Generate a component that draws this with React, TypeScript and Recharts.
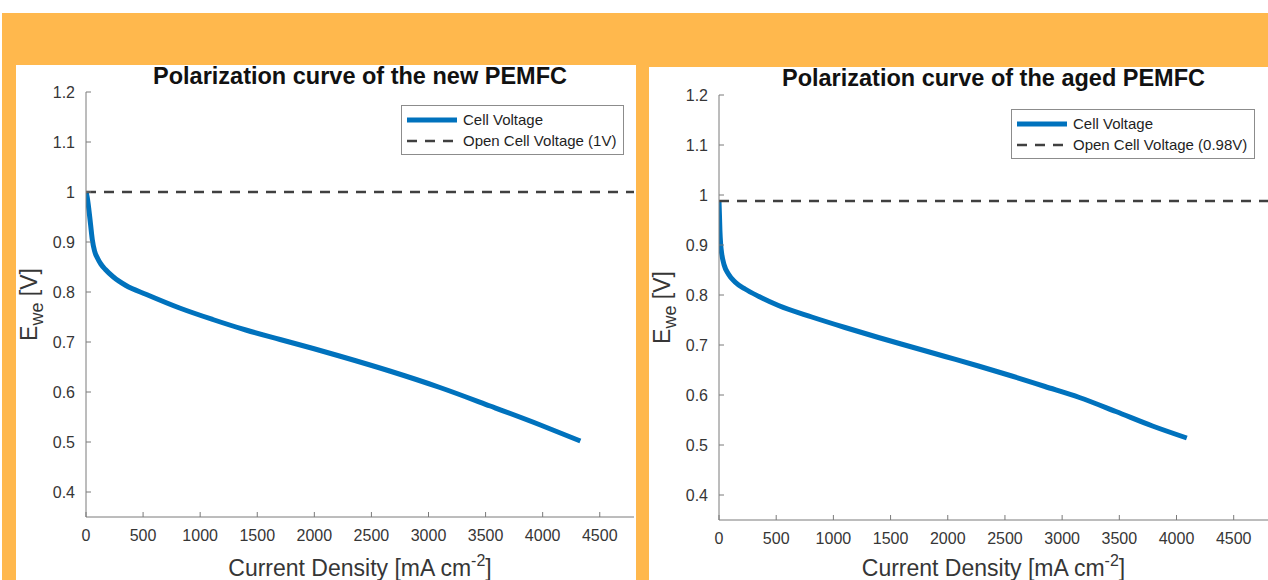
import { Legend, Line, LineChart, XAxis, YAxis } from "recharts";

// values
const newCurrent = [0, 10, 25, 40, 55, 75, 100, 130, 170, 240, 350, 530, 820, 1110, 1400, 1700, 1990, 2220, 2660, 3100, 3540, 3980, 4330];
const newVoltage = [1.0, 0.99, 0.965, 0.935, 0.905, 0.882, 0.868, 0.856, 0.845, 0.83, 0.813, 0.795, 0.768, 0.745, 0.724, 0.705, 0.687, 0.672, 0.642, 0.609, 0.572, 0.534, 0.502];

const agedCurrent = [0, 4, 8, 15, 24, 45, 82, 140, 228, 350, 520, 811, 1102, 1394, 1685, 1977, 2268, 2560, 2850, 3151, 3470, 3790, 4090];
const agedVoltage = [0.988, 0.96, 0.929, 0.9, 0.882, 0.86, 0.842, 0.826, 0.812, 0.797, 0.779, 0.756, 0.735, 0.715, 0.696, 0.677, 0.658, 0.638, 0.617, 0.595, 0.567, 0.538, 0.514];

const ocvNew = 1.0;
const ocvAged = 0.988;

const xTicks = [0, 500, 1000, 1500, 2000, 2500, 3000, 3500, 4000, 4500];
const yTicks = [0.4, 0.5, 0.6, 0.7, 0.8, 0.9, 1, 1.1, 1.2];
const xDomain: [number, number] = [0, 4800];
const yDomain: [number, number] = [0.35, 1.2];

const FONT = '"Liberation Sans", Arial, Helvetica, sans-serif';
const AXIS = "#7a7a7a";
const TXT = "#363636";
const BLUE = "#0072BD";
const DASH = "#404040";

const toRows = (xs: number[], ys: number[]) =>
  xs.map((x, i) => ({ current: x, voltage: ys[i] }));

const fmtY = (v: number) => String(Number(v.toFixed(1)));

const LeftTick = (props: any) => {
  const { x, y, payload } = props;
  return (
    <g>
      <line x1={x + 11} x2={x + 16} y1={y} y2={y} stroke={AXIS} />
      <text x={x} y={y} dy="0.355em" textAnchor="end" fontSize={16} fill={TXT} fontFamily={FONT}>
        {fmtY(payload.value)}
      </text>
    </g>
  );
};

const BottomTick = (props: any) => {
  const { x, y, payload } = props;
  return (
    <g>
      <line x1={x} x2={x} y1={y - 13} y2={y - 18} stroke={AXIS} />
      <text x={x} y={y} dy="0.71em" textAnchor="middle" fontSize={16} fill={TXT} fontFamily={FONT}>
        {payload.value}
      </text>
    </g>
  );
};

const TopTick = (props: any) => {
  const { x, y } = props;
  return <line x1={x} x2={x} y1={y} y2={y + 5} stroke={AXIS} />;
};

const RightTick = (props: any) => {
  const { x, y } = props;
  return <line x1={x} x2={x - 5} y1={y} y2={y} stroke={AXIS} />;
};

const XLabel = (props: any) => {
  const { viewBox, base } = props;
  return (
    <text x={viewBox.x + viewBox.width / 2} y={viewBox.y + base} textAnchor="middle" fontSize={23} fill={TXT} fontFamily={FONT}>
      Current Density [mA cm
      <tspan dy={-10} fontSize={16}>-2</tspan>
      <tspan dy={10}>]</tspan>
    </text>
  );
};

const YLabel = (props: any) => {
  const { viewBox } = props;
  const cx = viewBox.x + 21;
  const cy = viewBox.y + viewBox.height / 2;
  return (
    <text transform={`translate(${cx},${cy}) rotate(-90)`} textAnchor="middle" fontSize={23} fill={TXT} fontFamily={FONT}>
      E<tspan dy={6} fontSize={18}>we</tspan>
      <tspan dy={-6}> [V]</tspan>
    </text>
  );
};

const LegendBox = (props: any) => {
  const items = props.payload || [];
  return (
    <div
      style={{
        border: "1px solid #8c8c8c",
        background: "#fff",
        padding: "3px 7px 3px 4px",
        fontFamily: FONT,
        fontSize: 15,
        color: "#1f1f1f",
      }}
    >
      {items.map((e: any) => {
        const dashed = !!(e.payload && e.payload.strokeDasharray);
        return (
          <div key={e.value} style={{ display: "flex", alignItems: "center", height: 21, whiteSpace: "nowrap" }}>
            <svg width={52} height={8} style={{ marginRight: 5 }}>
              <line
                x1={1}
                x2={51}
                y1={4}
                y2={4}
                stroke={e.color}
                strokeWidth={dashed ? 2.5 : 5}
                strokeDasharray={dashed ? "10 8" : undefined}
              />
            </svg>
            <span>{e.value}</span>
          </div>
        );
      })}
    </div>
  );
};

type PanelProps = {
  left: number;
  top: number;
  width: number;
  height: number;
  marginTop: number;
  marginRight: number;
  xAxisHeight: number;
  labelBase: number;
  title: string;
  rows: { current: number; voltage: number }[];
  ocv: number;
  ocvName: string;
  legendPos: { left: number; top: number };
};

const Panel = (p: PanelProps) => {
  const ocvRows = xDomain.map((x) => ({ current: x, ocv: p.ocv }));
  const plotW = p.width - 70 - p.marginRight;
  return (
    <div style={{ position: "absolute", left: p.left, top: p.top, width: p.width, height: p.height, background: "#fff" }}>
      <div
        style={{
          position: "absolute",
          left: 70,
          top: 0,
          width: plotW,
          textAlign: "center",
          fontFamily: FONT,
          fontWeight: "bold",
          fontSize: 23.5,
          lineHeight: "23px",
          color: "#111",
          whiteSpace: "nowrap",
        }}
      >
        {p.title}
      </div>
      <LineChart
        width={p.width}
        height={p.height}
        margin={{ top: p.marginTop, right: p.marginRight, bottom: 0, left: 0 }}
      >
        <XAxis
          dataKey="current"
          type="number"
          domain={xDomain}
          ticks={xTicks}
          interval={0}
          height={p.xAxisHeight}
          tickSize={0}
          tickMargin={13}
          tick={<BottomTick />}
          axisLine={{ stroke: AXIS }}
          allowDataOverflow
          label={<XLabel base={p.labelBase} />}
        />
        <XAxis
          xAxisId="top"
          orientation="top"
          type="number"
          domain={xDomain}
          ticks={xTicks}
          interval={0}
          height={0}
          tickSize={0}
          tickMargin={0}
          tick={<TopTick />}
          axisLine={{ stroke: AXIS }}
          allowDataOverflow
        />
        <YAxis
          type="number"
          domain={yDomain}
          ticks={yTicks}
          interval={0}
          width={70}
          tickSize={0}
          tickMargin={11}
          tick={<LeftTick />}
          axisLine={{ stroke: AXIS }}
          allowDataOverflow
          label={<YLabel />}
        />
        <YAxis
          yAxisId="right"
          orientation="right"
          type="number"
          domain={yDomain}
          ticks={yTicks}
          interval={0}
          width={0}
          tickSize={0}
          tickMargin={0}
          tick={<RightTick />}
          axisLine={{ stroke: AXIS }}
          allowDataOverflow
        />
        <Line
          data={p.rows}
          dataKey="voltage"
          name="Cell Voltage"
          type="monotoneX"
          stroke={BLUE}
          strokeWidth={5}
          strokeLinejoin="round"
          dot={false}
          activeDot={false}
          isAnimationActive={false}
        />
        <Line
          data={ocvRows}
          dataKey="ocv"
          name={p.ocvName}
          type="linear"
          stroke={DASH}
          strokeWidth={2.5}
          strokeDasharray="10 8"
          dot={false}
          activeDot={false}
          isAnimationActive={false}
        />
        <Legend
          layout="horizontal"
          verticalAlign="middle"
          align="center"
          wrapperStyle={{ top: p.legendPos.top, left: p.legendPos.left, width: "auto", height: "auto" }}
          content={<LegendBox />}
        />
      </LineChart>
    </div>
  );
};

export default function App() {
  return (
    <div style={{ position: "absolute", left: 0, top: 0, width: 1268, height: 580, background: "#fff", overflow: "hidden" }}>
      <div style={{ position: "absolute", left: 2, top: 13, width: 1266, height: 567, background: "#FFB84D" }} />
      <Panel
        left={16}
        top={65}
        width={620}
        height={515}
        marginTop={27}
        marginRight={2}
        xAxisHeight={63}
        labelBase={59}
        title="Polarization curve of the new PEMFC"
        rows={toRows(newCurrent, newVoltage)}
        ocv={ocvNew}
        ocvName="Open Cell Voltage (1V)"
        legendPos={{ left: 385, top: 40 }}
      />
      <Panel
        left={649}
        top={67}
        width={619}
        height={513}
        marginTop={28}
        marginRight={0}
        xAxisHeight={60}
        labelBase={56}
        title="Polarization curve of the aged PEMFC"
        rows={toRows(agedCurrent, agedVoltage)}
        ocv={ocvAged}
        ocvName="Open Cell Voltage (0.98V)"
        legendPos={{ left: 362, top: 42 }}
      />
    </div>
  );
}
